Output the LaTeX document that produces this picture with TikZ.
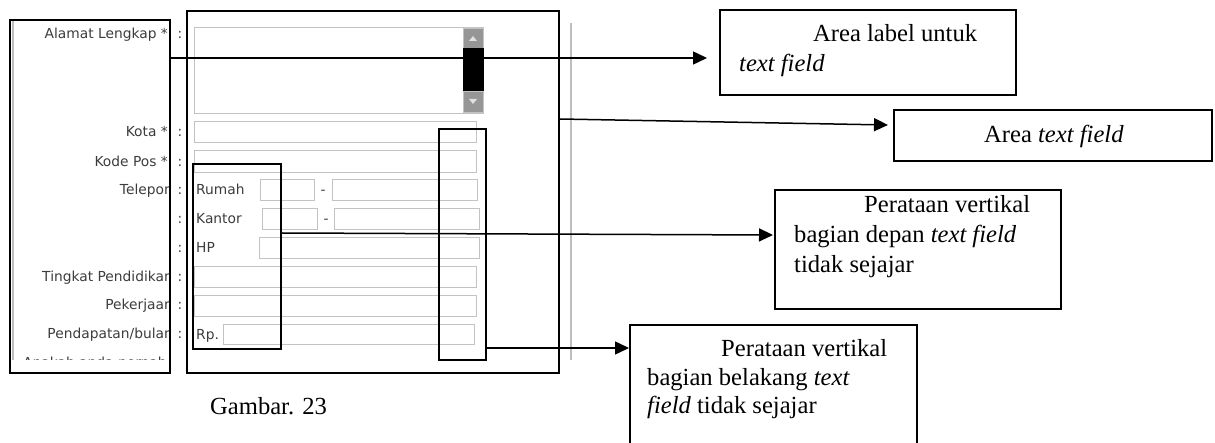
\documentclass[tikz,border=0pt]{standalone}
\usepackage{fontspec}
\setmainfont{Liberation Serif}
\newfontfamily\formfont{DejaVu Sans}
\usetikzlibrary{positioning,arrows.meta}

\definecolor{formtext}{RGB}{60,60,60}
\definecolor{fieldgray}{RGB}{195,195,195}
\definecolor{shotline}{RGB}{190,190,190}
\definecolor{btngray}{RGB}{150,150,150}

\tikzset{
    frame/.style={draw, line width=2pt, anchor=north west, inner sep=0pt},
    field/.style={draw=fieldgray, line width=1.3pt, anchor=north west, inner sep=0pt, fill=white},
    btn/.style={draw=fieldgray, line width=1pt, anchor=north west, inner sep=0pt, fill=btngray},
    lbl/.style={anchor=base east, inner sep=0pt, text=formtext, font=\formfont\fontsize{13.8pt}{16pt}\selectfont},
    ftxt/.style={anchor=base west, inner sep=0pt, text=formtext, font=\formfont\fontsize{13.8pt}{16pt}\selectfont},
    note/.style={anchor=base west, inner sep=0pt, font=\fontsize{24.6pt}{30pt}\selectfont},
    pointer/.style={-{Triangle[length=14pt,width=13pt]}, line width=1.5pt}}

\begin{document}
\begin{tikzpicture}[x=1pt, y=-1pt]
\useasboundingbox (0,0) rectangle (1215,443);
\clip (0,0) rectangle (1215,443);

% screenshot: label column
\begin{scope}
\clip (11,20) rectangle (169,360);
\draw[shotline, line width=1.5pt] (13,21) -- (13,360);
\node[lbl] (alamat) at (168,39) {Alamat Lengkap *};
\node[lbl] (kota) at (168,137) {Kota *};
\node[lbl] (kodepos) at (168,167) {Kode Pos *};
\node[lbl] (telepon) at (173,195) {Telepon};
\node[lbl] (tingkat) at (173,282) {Tingkat Pendidikan};
\node[lbl] (pekerjaan) at (173,310) {Pekerjaan};
\node[lbl] (pendapatan) at (173,339) {Pendapatan/bulan};
\node[ftxt] (apakah) at (23,367) {Apakah anda pernah};
\end{scope}
\foreach \y/\n in {39/1,137/2,167/3,195/4,224/5,253/6,282/7,310/8,339/9}
    \node[lbl, anchor=base] (colon\n) at (180,\y) {:};

% screenshot: text fields
\draw[shotline, line width=1.5pt] (571,23) -- (571,360);
\node[field, minimum width=289pt, minimum height=86pt] (alamatfield) at (194,27) {};
\node[btn, minimum width=20pt, minimum height=20pt] (scrollup) at (463,28) {};
\node[draw=black, fill=black, anchor=north west, inner sep=0pt, minimum width=20pt, minimum height=43pt] (scrollthumb) at (463,48) {};
\node[btn, minimum width=20pt, minimum height=21pt] (scrolldown) at (463,91) {};
\fill[white!88!black] (469,41) -- (477,41) -- (473,36) -- cycle;
\fill[white!88!black] (469,99) -- (477,99) -- (473,104) -- cycle;
\node[field, minimum width=282pt, minimum height=21pt] (kotafield) at (194,121) {};
\node[field, minimum width=282pt, minimum height=22pt] (kodeposfield) at (194,150) {};
\node[ftxt] (rumah) at (196,195) {Rumah};
\node[field, minimum width=54pt, minimum height=21pt] (rumah1) at (260,179) {};
\node[ftxt, anchor=base] (dash1) at (323,195) {-};
\node[field, minimum width=145pt, minimum height=21pt] (rumah2) at (332,179) {};
\node[ftxt] (kantor) at (196,224) {Kantor};
\node[field, minimum width=55pt, minimum height=21pt] (kantor1) at (262,208) {};
\node[ftxt, anchor=base] (dash2) at (326,224) {-};
\node[field, minimum width=145pt, minimum height=21pt] (kantor2) at (334,208) {};
\node[ftxt] (hp) at (196,253) {HP};
\node[field, minimum width=220pt, minimum height=21pt] (hpfield) at (259,237) {};
\node[field, minimum width=282pt, minimum height=21pt] (tingkatfield) at (194,266) {};
\node[field, minimum width=282pt, minimum height=21pt] (pekerjaanfield) at (194,295) {};
\node[ftxt] (rp) at (196,340) {Rp.};
\node[field, minimum width=251pt, minimum height=20pt] (rpfield) at (223,324) {};

% marked areas
\node[frame, minimum width=160pt, minimum height=353pt] (lblarea) at (9,19) {};
\node[frame, minimum width=372pt, minimum height=362pt] (tfarea) at (186,10) {};
\node[frame, minimum width=88pt, minimum height=185pt] (frontbox) at (192,163) {};
\node[frame, minimum width=47pt, minimum height=231pt] (backbox) at (438,128) {};

% notes
\node[frame, minimum width=296pt, minimum height=85pt] (box1) at (719,9) {};
\node[note] (box1a) at (813,42) {Area label untuk};
\node[note] (box1b) at (739,72) {\textit{text field}};

\node[frame, minimum width=318pt, minimum height=51pt] (box2) at (893,109) {};
\node[note] (box2a) at (984,143) {Area \textit{text field}};

\node[frame, minimum width=286pt, minimum height=119pt] (box3) at (774,189) {};
\node[note] (box3a) at (864,213) {Perataan vertikal};
\node[note] (box3b) at (794,243) {bagian depan \textit{text field}};
\node[note] (box3c) at (794,273) {tidak sejajar};

\node[frame, minimum width=287pt, minimum height=130pt] (box4) at (629,324) {};
\node[note] (box4a) at (721,356) {Perataan vertikal};
\node[note] (box4b) at (647,385) {bagian belakang \textit{text}};
\node[note] (box4c) at (647,413) {\textit{field} tidak sejajar};

\node[note] (caption) at (210,414) {Gambar. 23};

% pointers
\coordinate (p1s) at (lblarea.east |- 0,58);
\coordinate (p1e) at (707,58);
\coordinate (p2s) at (tfarea.east |- 0,119);
\coordinate (p2e) at (888,125);
\coordinate (p3s) at (frontbox.east |- 0,233);
\coordinate (p3e) at (773,235);
\coordinate (p4s) at (backbox.east |- 0,348);
\draw[pointer] (p1s) -- (p1e);
\draw[pointer] (p2s) -- (p2e);
\draw[pointer] (p3s) -- (p3e);
\draw[pointer] (p4s) -- (p4s -| box4.west);
\end{tikzpicture}
\end{document}
